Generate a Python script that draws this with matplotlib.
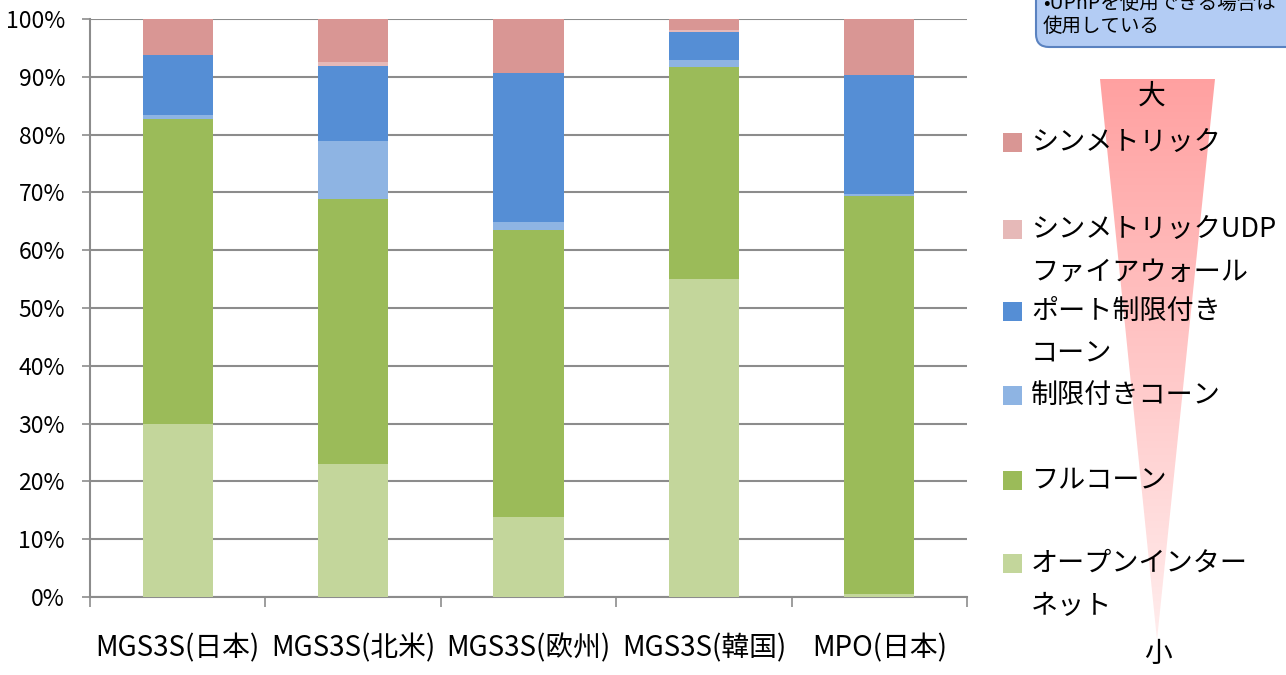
import numpy as np
import matplotlib
matplotlib.use('Agg')
import matplotlib.pyplot as plt
from matplotlib.patches import Polygon, FancyBboxPatch, Rectangle

plt.rcParams['font.family'] = ['Noto Sans CJK JP', 'DejaVu Sans']

categories = ['MGS3S(日本)', 'MGS3S(北米)', 'MGS3S(欧州)', 'MGS3S(韓国)', 'MPO(日本)']

# percent per NAT type, bottom to top
open_internet = [30.0, 23.0, 13.8, 55.0, 0.6]
full_cone = [52.7, 45.8, 49.7, 36.7, 68.7]
restricted_cone = [0.7, 10.1, 1.4, 1.2, 0.4]
port_restricted = [10.4, 13.0, 25.7, 4.9, 20.6]
symmetric_udp = [0.0, 0.6, 0.0, 0.3, 0.0]
symmetric = [6.2, 7.5, 9.4, 1.9, 9.7]

series = [open_internet, full_cone, restricted_cone, port_restricted, symmetric_udp, symmetric]
labels = ['オープンインター\nネット', 'フルコーン', '制限付きコーン',
          'ポート制限付き\nコーン', 'シンメトリックUDP\nファイアウォール', 'シンメトリック']
colors = ['#C3D69B', '#9BBB59', '#8EB4E3', '#558ED5', '#E6B9B8', '#D99694']

W, H = 1286, 675
fig = plt.figure(figsize=(W / 100, H / 100), dpi=100)

# background overlay in pixel coords (triangle, callout)
bg = fig.add_axes([0, 0, 1, 1], zorder=0)
bg.set_xlim(0, W)
bg.set_ylim(H, 0)
bg.axis('off')

tri = Polygon([[1100, 79], [1215, 79], [1157, 640]], closed=True,
              facecolor='none', edgecolor='none')
bg.add_patch(tri)
grad = np.linspace(0, 1, 256).reshape(-1, 1)
top_c = np.array([1.0, 0.63, 0.63])
bot_c = np.array([1.0, 0.93, 0.93])
img = top_c[None, None, :] * (1 - grad[..., None]) + bot_c[None, None, :] * grad[..., None]
im = bg.imshow(img, extent=[1100, 1215, 640, 79], aspect='auto', zorder=1)
im.set_clip_path(tri)

box = FancyBboxPatch((1036, -30), 300, 77, boxstyle='round,pad=0,rounding_size=13',
                     facecolor='#B3CCF4', edgecolor='#5A82C0', linewidth=1.5, zorder=2)
bg.add_patch(box)
bg.text(1043, 3, '•UPnPを使用できる場合は', fontsize=14, va='center', ha='left', zorder=3)
bg.text(1043, 27, '使用している', fontsize=14, va='center', ha='left', zorder=3)

bg.text(1152, 96, '大', fontsize=20, ha='center', va='center', zorder=3)
bg.text(1158, 654, '小', fontsize=20, ha='center', va='center', zorder=3)

# legend drawn by hand
leg_y = [563, 480, 395, 311, 229, 142]
for lab, col, y in zip(labels, colors, leg_y):
    bg.add_patch(Rectangle((1003, y - 9), 19, 19, facecolor=col, edgecolor='none', zorder=3))
    lines = lab.split('\n')
    for k, line in enumerate(lines):
        bg.text(1031, y + k * 43, line, fontsize=19.5, ha='left', va='center', zorder=3)

ax = fig.add_axes([90 / W, 1 - 597 / H, (967 - 90) / W, (597 - 19) / H], zorder=1)
ax.patch.set_alpha(0)
x = np.arange(len(categories))
bottom = np.zeros(len(categories))
for vals, col in zip(series, colors):
    ax.bar(x, vals, 0.4, bottom=bottom, color=col, edgecolor='none', zorder=3)
    bottom += np.array(vals)

ax.set_xlim(-0.5, len(categories) - 0.5)
ax.set_ylim(0, 100)
ax.set_yticks(np.arange(0, 101, 10))
ax.set_yticklabels([f'{v}%' for v in range(0, 101, 10)], fontsize=16.5)
ax.yaxis.grid(True, color='#8C8C8C', linewidth=1.5, zorder=0)
ax.set_axisbelow(True)
ax.set_xticks(x)
ax.set_xticklabels(categories, fontsize=20)
ax.set_xticks(np.arange(-0.5, len(categories)), minor=True)
ax.tick_params(axis='x', which='major', length=0, pad=26)
ax.tick_params(axis='x', which='minor', length=7, width=1.2, color='#8C8C8C')
ax.tick_params(axis='y', length=6, width=1.2, color='#8C8C8C', pad=12)
for s in ['top', 'right']:
    ax.spines[s].set_visible(False)
for s in ['left', 'bottom']:
    ax.spines[s].set_color('#8C8C8C')
    ax.spines[s].set_linewidth(1.5)

fig.savefig('out.png', dpi=100)
